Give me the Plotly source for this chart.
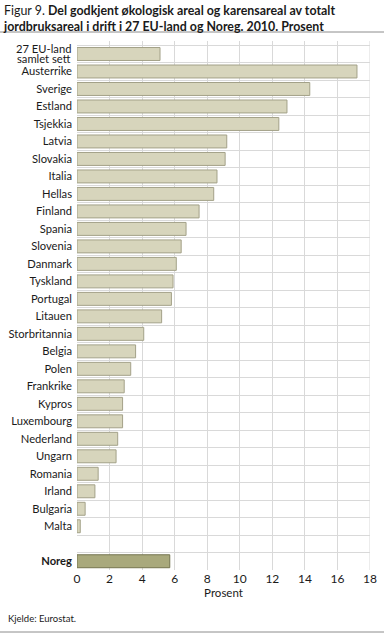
import plotly.graph_objects as go

categories = ["27 EU-land samlet sett", "Austerrike", "Sverige", "Estland", "Tsjekkia", "Latvia",
              "Slovakia", "Italia", "Hellas", "Finland", "Spania", "Slovenia", "Danmark",
              "Tyskland", "Portugal", "Litauen", "Storbritannia", "Belgia", "Polen", "Frankrike",
              "Kypros", "Luxembourg", "Nederland", "Ungarn", "Romania", "Irland", "Bulgaria",
              "Malta"]
values = [5.1, 17.2, 14.3, 12.9, 12.4, 9.2, 9.1, 8.6, 8.4, 7.5, 6.7, 6.4, 6.1,
          5.9, 5.8, 5.2, 4.1, 3.6, 3.3, 2.9, 2.8, 2.8, 2.5, 2.4, 1.3, 1.1, 0.5, 0.2]
norway_label = "Noreg"
norway_value = [5.7]
x_ticks = [0, 2, 4, 6, 8, 10, 12, 14, 16, 18]

FONT = "Lato, Noto Sans, sans-serif"
order = categories + [" ", norway_label]
ticktext = ["" if c == categories[0] else c for c in categories] + [" ", "<b>Noreg</b>"]

fig = go.Figure()
fig.add_trace(go.Bar(
    y=categories, x=values, orientation="h",
    marker=dict(color="#d7d5bc", line=dict(color="#a3a188", width=1)),
    showlegend=False, hoverinfo="x+y"))
fig.add_trace(go.Bar(
    y=[norway_label], x=norway_value, orientation="h",
    marker=dict(color="#a9a97c", line=dict(color="#75754f", width=1)),
    showlegend=False, hoverinfo="x+y"))

W, H = 384, 634
L, R, T, B = 77, 14, 41, 64
PW, PH = W - L - R, H - T - B

fig.update_layout(
    width=W, height=H,
    margin=dict(l=L, r=R, t=T, b=B, autoexpand=False),
    paper_bgcolor="white", plot_bgcolor="white",
    font=dict(family=FONT, size=11, color="#1a1a1a"),
    bargap=0.26, barmode="overlay",
    xaxis=dict(range=[0, 18], tickvals=x_ticks, showgrid=True, gridcolor="#d9d9d9",
               gridwidth=1, zeroline=False, showline=False, ticks="", automargin=False,
               tickfont=dict(size=12, color="#1a1a1a"),
               title=dict(text="Prosent", font=dict(size=11.5), standoff=3)),
    yaxis=dict(type="category", categoryorder="array", categoryarray=order,
               tickmode="array", tickvals=order, ticktext=ticktext,
               autorange="reversed", tickson="boundaries", showgrid=True,
               gridcolor="#d9d9d9", gridwidth=1, ticks="", showline=False, automargin=False,
               tickfont=dict(size=11.2, color="#1a1a1a"), ticklabelstandoff=4),
)

# right border gridline at 18
fig.add_shape(type="line", xref="x", yref="paper", x0=18, x1=18, y0=0, y1=1,
              line=dict(color="#d9d9d9", width=1))

# two-line label for the EU total (tight line spacing as in the reference)
fig.add_annotation(xref="paper", yref="y", x=-4 / PW, y=categories[0], yshift=5.5,
                   xanchor="right", yanchor="middle", text="27 EU-land", showarrow=False,
                   font=dict(size=11.2, color="#1a1a1a"))
fig.add_annotation(xref="paper", yref="y", x=-4 / PW, y=categories[0], yshift=-4.5,
                   xanchor="right", yanchor="middle", text="samlet sett", showarrow=False,
                   font=dict(size=11.2, color="#1a1a1a"))

# Title, rules and source
fig.add_annotation(xref="paper", yref="paper", x=-(L - 1) / PW, y=1 + (T - 1) / PH,
                   xanchor="left", yanchor="top",
                   text="Figur 9. <b>Del godkjent økologisk areal og karensareal av totalt</b><br><b>jordbruksareal i drift i 27 EU-land og Noreg. 2010. Prosent</b>",
                   showarrow=False, align="left", font=dict(size=12.4, color="#1a1a1a"))
fig.add_shape(type="line", xref="paper", yref="paper", x0=-L / PW, x1=1 + R / PW,
              y0=1 + (T - 32) / PH, y1=1 + (T - 32) / PH, line=dict(color="#8c8c8c", width=1))
fig.add_annotation(xref="paper", yref="paper", x=-(L - 6) / PW, y=-(618 - (H - B)) / PH,
                   xanchor="left", yanchor="middle",
                   text="Kjelde: Eurostat.", showarrow=False, font=dict(size=9.5, color="#1a1a1a"))
fig.add_shape(type="line", xref="paper", yref="paper", x0=-L / PW, x1=1 + R / PW,
              y0=-(632 - (H - B)) / PH, y1=-(632 - (H - B)) / PH,
              line=dict(color="#8c8c8c", width=1))

fig.write_html("out.html", config={"displayModeBar": False},
               post_script="document.body.style.margin='0';document.body.style.padding='0';")
